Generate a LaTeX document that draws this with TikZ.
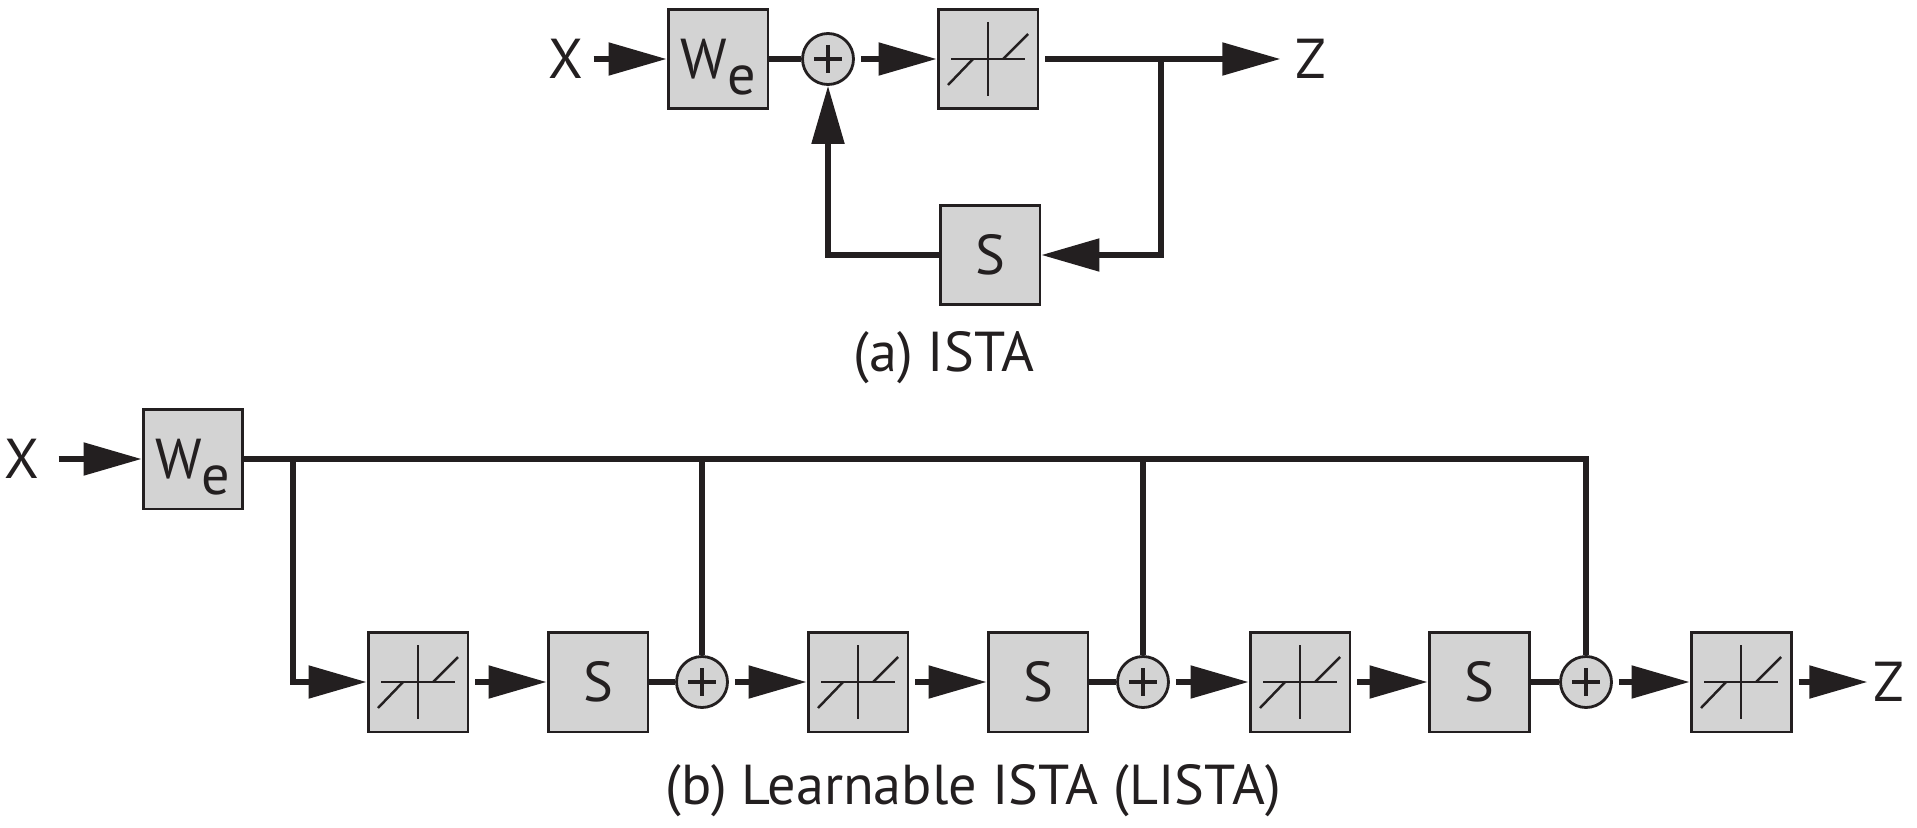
\documentclass[tikz,border=0pt]{standalone}
\usepackage{fontspec}
\setmainfont{PT Sans}
\usetikzlibrary{arrows.meta}

\definecolor{boxgray}{RGB}{211,211,211}
\definecolor{ink}{RGB}{35,31,32}

\begin{document}
\begin{tikzpicture}[x=0.02cm, y=-0.02cm,
		every node/.style={font=\fontsize{32}{38}\selectfont, text=ink},
		wire/.style={draw=ink, line width=3pt},
		arr/.style={wire, shorten <=0.12cm, -{Triangle[length=1.16cm,width=0.64cm]}},
		block/.style={draw=ink, fill=boxgray, line width=1.7pt, minimum size=2cm, inner sep=0pt},
		shrinkbox/.style={block, path picture={
			\begin{scope}[shift={(path picture bounding box.center)}, draw=ink, line width=1.4pt]
				\draw (-37,0) -- (37,0) (0,-37) -- (0,37);
				\draw (-40,26) -- (-15,0) (15,0) -- (40,-25);
			\end{scope}}},
		adder/.style={circle, draw=ink, fill=boxgray, line width=1.6pt, minimum size=1.02cm, inner sep=0pt, path picture={
			\draw[ink, line width=2.5pt, shift={(path picture bounding box.center)}] (-14,0) -- (14,0) (0,-14) -- (0,14);}},
		label/.style={inner sep=0pt}]
		\useasboundingbox (0,0) rectangle (1917,828);

		% (a) ISTA
		\node[label] (xa) at (566,59) {X};
		\node[block] (wea) at (718,59) {W\smash{\raisebox{-.28em}{e}}};
		\node[adder] (adda) at (828,59) {};
		\node[shrinkbox] (sha) at (988,59) {};
		\node[label] (za) at (1311,59) {Z};
		\node[block] (sa) at (990,255) {S};
		\coordinate (bra) at (1161,59);
		\node (capa) at (944,358) {(a) ISTA};

		\draw[arr, shorten <=0.2cm] (xa.east) -- (wea.west);
		\draw[wire] (wea.east) -- (adda.west);
		\draw[arr] (adda.east) -- (sha.west);
		\draw[arr, shorten >=0.3cm] (sha.east) -- (za.west);
		% feedback through S
		\draw[arr, shorten <=0pt] (bra) |- (sa.east);
		\draw[arr, shorten <=0pt] (sa.west) -| (adda.south);

		% (b) LISTA
		\node[label] (xb) at (22,459) {X};
		\node[block] (web) at (193,459) {W\smash{\raisebox{-.28em}{e}}};
		\coordinate (tapb) at (293,459);
		\node[shrinkbox] (sh1) at (418,682) {};
		\node[block] (s1) at (598,682) {S};
		\node[adder] (add1) at (702,682) {};
		\node[shrinkbox] (sh2) at (858,682) {};
		\node[block] (s2) at (1038,682) {S};
		\node[adder] (add2) at (1143,682) {};
		\node[shrinkbox] (sh3) at (1300,682) {};
		\node[block] (s3) at (1479,682) {S};
		\node[adder] (add3) at (1586,682) {};
		\node[shrinkbox] (sh4) at (1741,682) {};
		\node[label] (zb) at (1889,682) {Z};
		\node (capb) at (973,791) {(b) Learnable ISTA (LISTA)};

		\draw[arr, shorten <=0.38cm] (xb.east) -- (web.west);
		% the line from We feeding every adder
		\draw[wire] (web.east) -| (add3.north);
		\draw[wire] (add1 |- web.east) -- (add1.north);
		\draw[wire] (add2 |- web.east) -- (add2.north);
		\draw[arr, shorten <=0pt] (tapb) |- (sh1.west);

		% the chain of stages
		\draw[arr] (sh1.east) -- (s1.west);
		\draw[wire] (s1.east) -- (add1.west);
		\draw[arr] (add1.east) -- (sh2.west);
		\draw[arr] (sh2.east) -- (s2.west);
		\draw[wire] (s2.east) -- (add2.west);
		\draw[arr] (add2.east) -- (sh3.west);
		\draw[arr] (sh3.east) -- (s3.west);
		\draw[wire] (s3.east) -- (add3.west);
		\draw[arr] (add3.east) -- (sh4.west);
		\draw[arr, shorten >=0.12cm] (sh4.east) -- (zb.west);
	\end{tikzpicture}
\end{document}
